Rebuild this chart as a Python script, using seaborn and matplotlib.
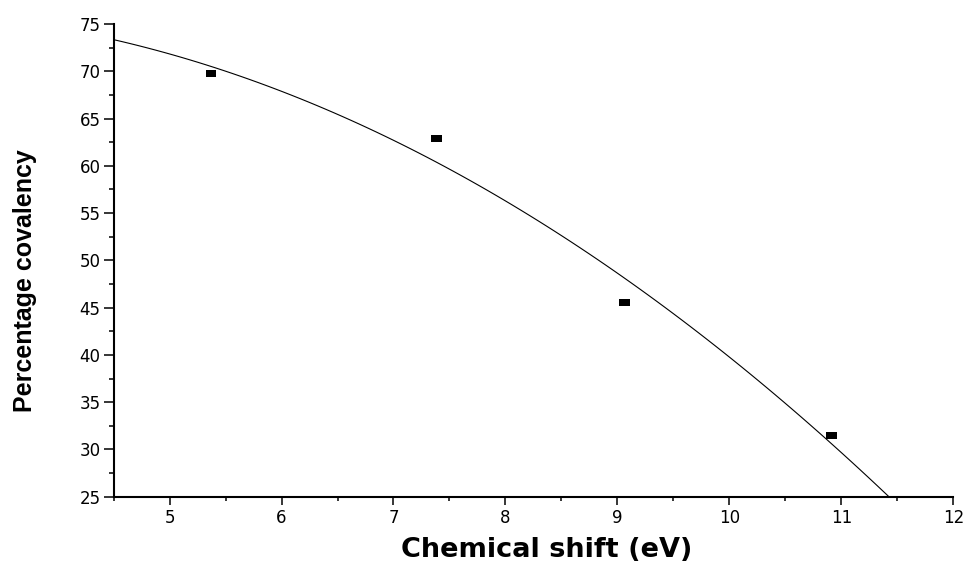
import matplotlib
matplotlib.use("Agg")
import matplotlib.pyplot as plt
from matplotlib.ticker import MultipleLocator
import seaborn as sns
import pandas as pd

# values
chemical_shift = [5.37, 7.385, 9.06, 10.91]
covalency = [69.79, 62.88, 45.54, 31.45]

df = pd.DataFrame({"shift": chemical_shift, "cov": covalency})

sns.set_style("white")
plt.rcParams['font.family'] = ['DejaVu Sans']
plt.rcParams['text.color'] = 'black'
plt.rcParams['axes.labelcolor'] = 'black'
plt.rcParams['xtick.color'] = 'black'
plt.rcParams['ytick.color'] = 'black'

fig = plt.figure(figsize=(9.7, 5.66), dpi=100)
ax = fig.add_axes([0.1171, 0.1224, 0.8657, 0.8352])

ax.set_xlim(4.5, 12)
ax.set_ylim(25, 75)

# quadratic fit, drawn across the full x range
sns.regplot(data=df, x="shift", y="cov", order=2, ci=None, truncate=False,
            scatter=False, ax=ax, line_kws=dict(color="black", lw=0.8))

rect = [(-1, -0.62), (1, -0.62), (1, 0.62), (-1, 0.62)]
sns.scatterplot(data=df, x="shift", y="cov", marker=rect, s=62,
                color="black", edgecolor="none", ax=ax, zorder=3)

ax.set_xlim(4.5, 12)
ax.set_ylim(25, 75)
ax.xaxis.set_major_locator(MultipleLocator(1))
ax.xaxis.set_minor_locator(MultipleLocator(0.5))
ax.yaxis.set_major_locator(MultipleLocator(5))
ax.yaxis.set_minor_locator(MultipleLocator(2.5))

for s in ["top", "right"]:
    ax.spines[s].set_visible(False)
for s in ["left", "bottom"]:
    ax.spines[s].set_linewidth(1.5)
    ax.spines[s].set_color("black")

ax.tick_params(which="both", direction="out", width=1.1,
               labelsize=12, left=True, bottom=True)
ax.tick_params(axis="y", which="major", length=7.5, pad=2)
ax.tick_params(axis="y", which="minor", length=3.5)
ax.tick_params(axis="x", which="major", length=5.5, pad=3.5)
ax.tick_params(axis="x", which="minor", length=3)

ax.set_xlabel("Chemical shift (eV)", fontsize=19.5, fontweight="bold")
ax.xaxis.set_label_coords(0.516, -0.085)
ax.set_ylabel("Percentage covalency", fontsize=18, fontweight="bold",
              family=["Liberation Sans"])
ax.yaxis.set_label_coords(-0.091, 0.458)

fig.savefig("out.png", dpi=100)
